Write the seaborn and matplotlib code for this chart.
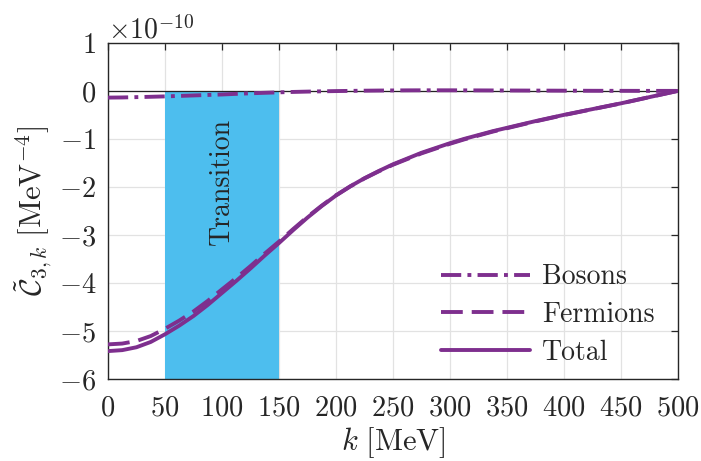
import numpy as np
import pandas as pd
import matplotlib
matplotlib.use("Agg")
import matplotlib.pyplot as plt
import seaborn as sns

# ---- data (values in units of 1e-10 MeV^-4) ----
scale = 1e-10
k_vals = [0, 12.5, 25, 37.5, 50, 62.5, 75, 87.5, 100, 112.5, 125, 137.5, 150,
          162.5, 175, 187.5, 200, 212.5, 225, 237.5, 250, 262.5, 275, 287.5, 300,
          312.5, 325, 337.5, 350, 362.5, 375, 387.5, 400, 412.5, 425, 437.5, 450,
          462.5, 475, 487.5, 500]
total = [-5.42, -5.40, -5.34, -5.23, -5.07, -4.89, -4.69, -4.46, -4.21, -3.96,
         -3.70, -3.43, -3.17, -2.90, -2.64, -2.40, -2.18, -1.99, -1.82, -1.67,
         -1.53, -1.41, -1.29, -1.19, -1.09, -1.00, -0.92, -0.84, -0.77, -0.70,
         -0.63, -0.565, -0.50, -0.44, -0.38, -0.32, -0.26, -0.195, -0.13, -0.065, 0.0]
bosons = [-0.14, -0.137, -0.13, -0.123, -0.115, -0.105, -0.095, -0.085, -0.075, -0.062,
          -0.05, -0.04, -0.03, -0.022, -0.015, -0.009, -0.004, 0.0, 0.004, 0.007,
          0.009, 0.011, 0.012, 0.012, 0.012, 0.011, 0.01, 0.009, 0.008, 0.007,
          0.006, 0.005, 0.004, 0.003, 0.002, 0.0015, 0.001, 0.0005, 0.0, 0.0, 0.0]
fermions = [-5.28, -5.263, -5.21, -5.107, -4.955, -4.785, -4.595, -4.375, -4.135, -3.898,
            -3.65, -3.39, -3.14, -2.878, -2.625, -2.391, -2.176, -1.99, -1.824, -1.677,
            -1.539, -1.421, -1.302, -1.202, -1.102, -1.011, -0.93, -0.849, -0.778, -0.707,
            -0.636, -0.57, -0.504, -0.443, -0.382, -0.3215, -0.261, -0.1955, -0.13, -0.065, 0.0]
series_names = ["Bosons", "Fermions", "Total"]
transition = [50, 150]
x_ticks = list(range(0, 501, 50))
y_ticks = [-6, -5, -4, -3, -2, -1, 0, 1]

purple = "#7E2F8E"
blue = "#4DBEEE"

sns.set_style("white")
plt.rcParams["font.family"] = ["cmr10"]
plt.rcParams["mathtext.fontset"] = "cm"
plt.rcParams["axes.formatter.use_mathtext"] = True
plt.rcParams["axes.unicode_minus"] = True

rows = []
for name, vals in zip(series_names, [bosons, fermions, total]):
    for kk, v in zip(k_vals, vals):
        rows.append({"k": kk, "C": v * scale, "series": name})
df = pd.DataFrame(rows)

fig = plt.figure(figsize=(7.01, 4.61), dpi=100)
ax = fig.add_axes([0.154, 0.178, 0.813, 0.729])

sns.lineplot(data=df, x="k", y="C", hue="series", style="series",
             hue_order=series_names, style_order=series_names,
             palette={n: purple for n in series_names},
             dashes={"Bosons": (5.2, 1.6, 1, 1.6), "Fermions": (5.6, 2.3), "Total": ""},
             linewidth=2.8, ax=ax, legend=False, zorder=3)
series_lines = list(ax.lines[:3])

ax.fill_between(transition, [-6 * scale] * 2, [0, 0], color=blue, lw=0, zorder=1)
ax.axhline(0, color="#222222", lw=0.9, zorder=2)
ax.text(100, -1.88 * scale, "Transition", rotation=90, ha="center", va="center",
        fontsize=20, zorder=4)

ax.set_xlim(0, 500)
ax.set_ylim(-6 * scale, 1 * scale)
ax.set_xticks(x_ticks)
ax.set_yticks([t * scale for t in y_ticks])
ax.grid(True, color="#e2e2e2", lw=0.9)
ax.set_axisbelow(True)
ax.tick_params(direction="in", length=5, width=0.9, top=True, right=True,
               labelsize=20.5, colors="#262626")
ax.tick_params(axis="x", pad=12)
ax.tick_params(axis="y", pad=8.5)
for s in ax.spines.values():
    s.set_color("#262626")
    s.set_linewidth(1.0)
ax.yaxis.get_offset_text().set_fontsize(20)

ax.set_xlabel(r"$k\ [\mathrm{MeV}]$", fontsize=22, labelpad=2)
ax.set_ylabel(r"$\tilde{\mathcal{C}}_{3,k}\ [\mathrm{MeV}^{-4}]$", fontsize=22, labelpad=4)

ax.legend(series_lines, series_names, loc="upper left", bbox_to_anchor=(0.584, 0.342),
          frameon=False, fontsize=20, handlelength=3.2, handletextpad=0.45,
          labelspacing=0.41, borderpad=0, borderaxespad=0)

fig.savefig("out.png", dpi=100)
